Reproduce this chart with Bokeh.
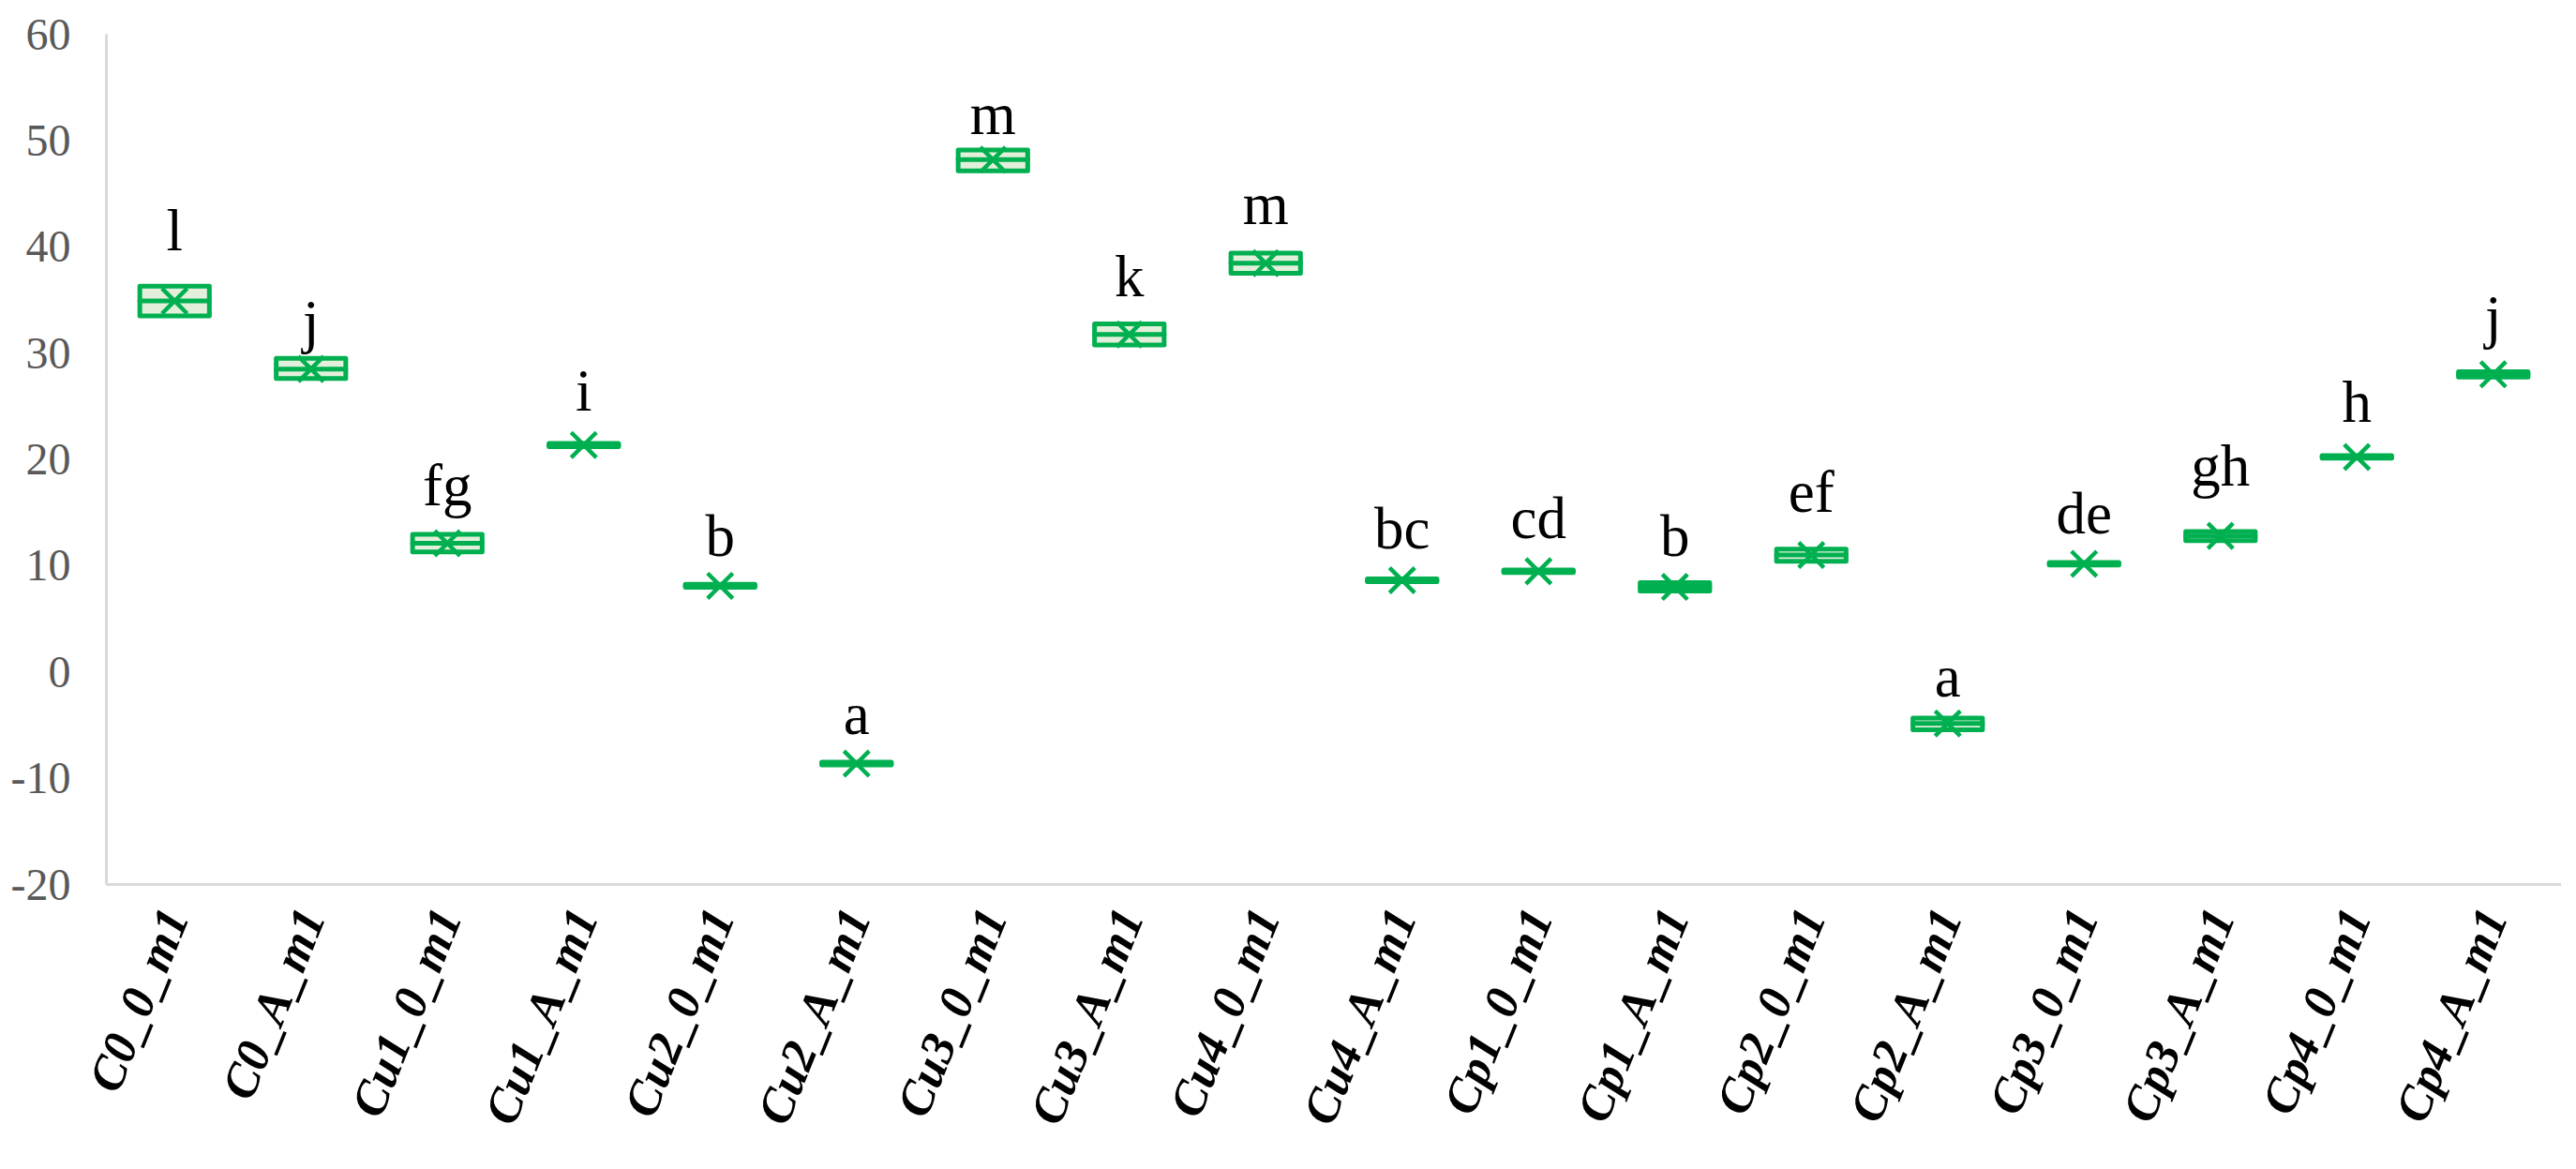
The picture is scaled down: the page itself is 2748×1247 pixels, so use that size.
from bokeh.plotting import figure
from bokeh.models import FactorRange, Range1d, ColumnDataSource
from bokeh.transform import dodge
from bokeh.core.properties import value
from bokeh.embed import file_html
from bokeh.resources import INLINE
import math

categories = ["C0_0_m1", "C0_A_m1", "Cu1_0_m1", "Cu1_A_m1", "Cu2_0_m1", "Cu2_A_m1",
              "Cu3_0_m1", "Cu3_A_m1", "Cu4_0_m1", "Cu4_A_m1", "Cp1_0_m1", "Cp1_A_m1",
              "Cp2_0_m1", "Cp2_A_m1", "Cp3_0_m1", "Cp3_A_m1", "Cp4_0_m1", "Cp4_A_m1"]
q3 = [36.3, 29.5, 12.95, 21.5, 8.25, -8.5, 49.1, 32.75, 39.4, 8.75, 9.6, 8.4,
      11.55, -4.35, 10.3, 13.2, 20.35, 28.25]
q1 = [33.5, 27.6, 11.3, 21.2, 7.95, -8.75, 47.15, 30.75, 37.5, 8.5, 9.35, 7.6,
      10.4, -5.45, 10.05, 12.35, 20.1, 27.75]
median = [34.9, 28.5, 12.1, 21.35, 8.1, -8.63, 48.2, 31.75, 38.45, 8.62, 9.47, 8.0,
          11.0, -4.85, 10.17, 12.8, 20.22, 28.0]
mean = [34.9, 28.5, 12.1, 21.35, 8.1, -8.63, 48.2, 31.75, 38.45, 8.62, 9.47, 8.0,
        11.0, -4.85, 10.17, 12.8, 20.22, 28.0]
letters = ["l", "j", "fg", "i", "b", "a", "m", "k", "m", "bc", "cd", "b", "ef", "a",
           "de", "gh", "h", "j"]
letter_y = [41.5, 33.0, 17.5, 26.4, 12.8, -4.0, 52.5, 37.2, 44.0, 13.5, 14.45, 12.8,
            16.9, -0.44, 14.9, 19.4, 25.4, 33.4]
y_ticks = [-20, -10, 0, 10, 20, 30, 40, 50, 60]
y_tick_labels = ["-20", "-10", "0", "10", "20", "30", "40", "50", "60"]

GREEN = "#00B050"

src = ColumnDataSource(dict(x=categories, q1=q1, q3=q3, med=median, mean=mean,
                            lab=letters, ly=letter_y))

p = figure(x_range=FactorRange(*categories), y_range=Range1d(-20, 60),
           width=2732, height=1231, output_backend="svg", toolbar_location=None,
           title=None, min_border_left=113, min_border_right=0,
           min_border_top=36, min_border_bottom=288)
p.x_range.range_padding = 0

p.vbar(x="x", top="q3", bottom="q1", width=0.51, source=src,
       fill_color="#E2EFDA", line_color=GREEN, line_width=5, line_join="round")
p.segment(x0=dodge("x", -0.255, range=p.x_range), x1=dodge("x", 0.255, range=p.x_range),
          y0="med", y1="med", source=src, line_color=GREEN, line_width=5,
          line_cap="round")
p.scatter(x="x", y="mean", source=src, marker="x", size=38, line_color=GREEN,
          line_width=4.5)
p.text(x="x", y="ly", text="lab", source=src, text_align="center",
       text_baseline="alphabetic", text_font=value("Liberation Serif"),
       text_font_size="63px", text_color="black")

p.xgrid.visible = False
p.ygrid.visible = False
p.outline_line_color = None
p.background_fill_color = "white"
p.border_fill_color = "white"

p.yaxis.ticker = y_ticks
p.yaxis.major_label_overrides = {t: s for t, s in zip(y_ticks, y_tick_labels)}
p.yaxis.axis_line_color = "#D9D9D9"
p.yaxis.axis_line_width = 3
p.yaxis.major_tick_line_color = None
p.yaxis.minor_tick_line_color = None
p.yaxis.major_label_standoff = 32
p.yaxis.major_label_text_font = "Liberation Serif"
p.yaxis.major_label_text_font_size = "48px"
p.yaxis.major_label_text_color = "#595959"

p.xaxis.axis_line_color = "#D9D9D9"
p.xaxis.axis_line_width = 3
p.xaxis.major_tick_line_color = None
p.xaxis.minor_tick_line_color = None
p.xaxis.major_label_orientation = math.radians(68)
p.xaxis.major_label_standoff = 22
p.xaxis.major_label_text_font = "Liberation Serif"
p.xaxis.major_label_text_font_style = "bold italic"
p.xaxis.major_label_text_font_size = "52px"
p.xaxis.major_label_text_color = "black"

open("out.html", "w").write(file_html(p, INLINE))
